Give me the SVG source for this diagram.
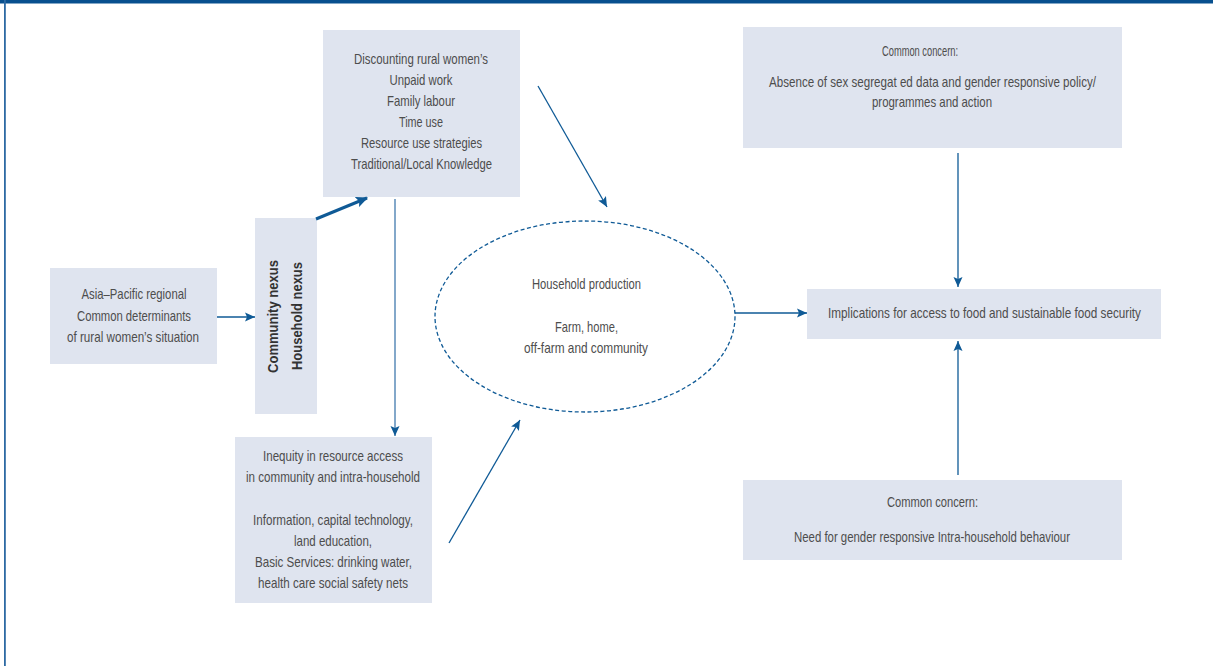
<svg xmlns="http://www.w3.org/2000/svg" width="1213" height="666" viewBox="0 0 1213 666">
<defs>
<style>
.box{fill:#dfe4ef;}
.t{font-family:"Liberation Sans",Arial,sans-serif;font-size:14.5px;fill:#4d4d4d;text-anchor:middle;}
.tb{font-family:"Liberation Sans",Arial,sans-serif;font-size:15px;font-weight:bold;fill:#333;text-anchor:middle;}
.c{stroke:#0f5a96;stroke-width:1.3;fill:none;}
</style>
<marker id="ah" markerUnits="userSpaceOnUse" markerWidth="10" markerHeight="10" viewBox="0 0 10 10" refX="10" refY="5" orient="auto">
<path d="M0,0.5 L10,5 L0,9.5 L2,5 Z" fill="#0f5a96"/>
</marker>
<marker id="ahb" markerUnits="userSpaceOnUse" markerWidth="12" markerHeight="12" viewBox="0 0 10 10" refX="9" refY="5" orient="auto">
<path d="M0,0.5 L10,5 L0,9.5 L2,5 Z" fill="#0f5a96"/>
</marker>
</defs>
<rect width="1213" height="666" fill="#fff"/>
<rect x="0" y="0" width="1213" height="3.5" fill="#08508f"/>
<rect x="4" y="0" width="1.8" height="666" fill="#2d6aa3"/>

<g id="asia">
<rect class="box" x="50" y="268" width="167" height="96"/>
<text class="t" x="134" y="299" textLength="105" lengthAdjust="spacingAndGlyphs">Asia–Pacific regional</text>
<text class="t" x="134" y="321" textLength="114" lengthAdjust="spacingAndGlyphs">Common determinants</text>
<text class="t" x="133" y="342" textLength="132" lengthAdjust="spacingAndGlyphs">of rural women’s situation</text>
</g>

<g id="nexus">
<rect class="box" x="255" y="218" width="62" height="196"/>
<text class="tb" transform="translate(278,316.5) rotate(-90)" textLength="113" lengthAdjust="spacingAndGlyphs">Community nexus</text>
<text class="tb" transform="translate(302,316) rotate(-90)" textLength="108" lengthAdjust="spacingAndGlyphs">Household nexus</text>
</g>

<g id="discounting">
<rect class="box" x="323" y="30" width="197" height="167"/>
<text class="t" x="421" y="64" textLength="134" lengthAdjust="spacingAndGlyphs">Discounting rural women’s</text>
<text class="t" x="421" y="85" textLength="63" lengthAdjust="spacingAndGlyphs">Unpaid work</text>
<text class="t" x="421" y="106" textLength="68" lengthAdjust="spacingAndGlyphs">Family labour</text>
<text class="t" x="421" y="127" textLength="44" lengthAdjust="spacingAndGlyphs">Time use</text>
<text class="t" x="421.5" y="148" textLength="121" lengthAdjust="spacingAndGlyphs">Resource use strategies</text>
<text class="t" x="421.5" y="169" textLength="141" lengthAdjust="spacingAndGlyphs">Traditional/Local Knowledge</text>
</g>

<g id="inequity">
<rect class="box" x="235" y="437" width="197" height="166"/>
<text class="t" x="333" y="461" textLength="140" lengthAdjust="spacingAndGlyphs">Inequity in resource access</text>
<text class="t" x="333" y="482" textLength="174" lengthAdjust="spacingAndGlyphs">in community and intra-household</text>
<text class="t" x="333" y="525" textLength="160" lengthAdjust="spacingAndGlyphs">Information, capital technology,</text>
<text class="t" x="333" y="546" textLength="78" lengthAdjust="spacingAndGlyphs">land education,</text>
<text class="t" x="333.5" y="567" textLength="157" lengthAdjust="spacingAndGlyphs">Basic Services: drinking water,</text>
<text class="t" x="333" y="588" textLength="150" lengthAdjust="spacingAndGlyphs">health care social safety nets</text>
</g>

<g id="household">
<ellipse cx="585" cy="316.5" rx="150" ry="95.5" fill="none" stroke="#0f5a96" stroke-width="1.3" stroke-dasharray="4,2.5"/>
<text class="t" x="586.5" y="289" textLength="109" lengthAdjust="spacingAndGlyphs">Household production</text>
<text class="t" x="586.5" y="332" textLength="63" lengthAdjust="spacingAndGlyphs">Farm, home,</text>
<text class="t" x="586" y="353" textLength="124" lengthAdjust="spacingAndGlyphs">off-farm and community</text>
</g>

<g id="concern-top">
<rect class="box" x="743" y="27" width="379" height="121"/>
<text class="t" x="920" y="56" textLength="76" lengthAdjust="spacingAndGlyphs">Common concern:</text>
<text class="t" x="932.5" y="87" textLength="327" lengthAdjust="spacingAndGlyphs">Absence of sex segregat ed data and gender responsive policy/</text>
<text class="t" x="932" y="107" textLength="120" lengthAdjust="spacingAndGlyphs">programmes and action</text>
</g>

<g id="implications">
<rect class="box" x="807" y="289" width="354" height="50"/>
<text class="t" x="984.5" y="318" textLength="313" lengthAdjust="spacingAndGlyphs">Implications for access to food and sustainable food security</text>
</g>

<g id="concern-bottom">
<rect class="box" x="743" y="480" width="379" height="80"/>
<text class="t" x="932.5" y="507" textLength="91" lengthAdjust="spacingAndGlyphs">Common concern:</text>
<text class="t" x="932" y="542" textLength="276" lengthAdjust="spacingAndGlyphs">Need for gender responsive Intra-household behaviour</text>
</g>

<g id="connectors">
<line class="c" x1="217" y1="317" x2="255" y2="317" marker-end="url(#ah)"/>
<line x1="316" y1="219" x2="367" y2="198" stroke="#0f5a96" stroke-width="3" marker-end="url(#ahb)"/>
<line x1="395" y1="199" x2="395" y2="436" stroke="#5a8bb8" stroke-width="1.5" marker-end="url(#ah)"/>
<line class="c" x1="538" y1="86" x2="607" y2="207" marker-end="url(#ah)"/>
<line class="c" x1="449" y1="543" x2="520" y2="420" marker-end="url(#ah)"/>
<line class="c" x1="735" y1="313" x2="807" y2="313" marker-end="url(#ah)"/>
<line class="c" x1="958" y1="153" x2="958" y2="287" marker-end="url(#ah)"/>
<line class="c" x1="958" y1="475" x2="958" y2="341" marker-end="url(#ah)"/>
</g>
</svg>
